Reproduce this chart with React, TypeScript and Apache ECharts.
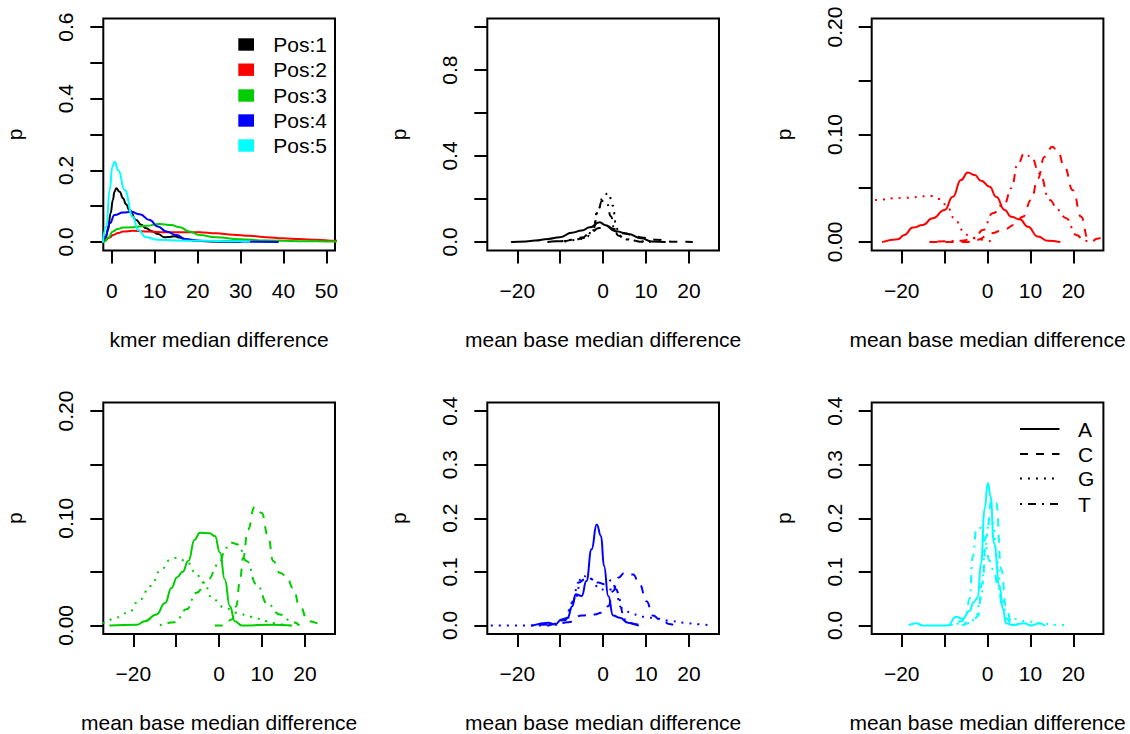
import React, { useEffect, useRef } from "react";
import * as echarts from "echarts";

// ---------- data ----------
type P = [number, number];

// Panel 1: kmer median difference, positions 1..5
const kmerPos1: P[] = [[-2.1,0],[-1.5,0.01],[-0.9,0.033],[-0.3,0.08],[0.23,0.117],[0.6,0.14],[1.0,0.15],[1.8,0.14],[2.6,0.122],[3.3,0.105],[4.1,0.089],[5.7,0.061],[6.8,0.048],[8.0,0.038],[9.3,0.03],[10.7,0.022],[12.3,0.013],[13.5,0.014],[14.6,0.016],[15.8,0.012],[17,0.0075],[19.7,0.003],[24,0.001],[30,0]];
const kmerPos2: P[] = [[-2.1,0],[-1.7,0.003],[-0.5,0.012],[0.23,0.019],[1.5,0.025],[2.6,0.029],[4.9,0.031],[8.8,0.029],[12.7,0.027],[16.6,0.027],[20.4,0.027],[24.3,0.024],[28.2,0.02],[32.1,0.017],[36,0.013],[39.9,0.01],[43.7,0.008],[47.6,0.006],[51.9,0.003],[55,0.002]];
const kmerPos3: P[] = [[-2.1,0],[-1.7,0.002],[-0.8,0.012],[0.23,0.029],[1.3,0.036],[2.6,0.04],[4.9,0.041],[8.0,0.045],[11.1,0.05],[13.8,0.047],[15.8,0.041],[18.1,0.029],[20.4,0.019],[24.3,0.013],[29.8,0.0075],[36,0.004],[43.7,0.002],[52,0.001],[55,0.001]];
const kmerPos4: P[] = [[-2.1,0],[-1.5,0.015],[-0.5,0.052],[0.63,0.075],[2.6,0.082],[4.5,0.084],[6.5,0.077],[8.8,0.061],[10.7,0.043],[12.7,0.029],[15,0.019],[17.3,0.0075],[20.5,0.003],[28,0.001],[38.7,0]];
const kmerPos5: P[] = [[-2.1,0],[-1.3,0.043],[-0.5,0.145],[0.1,0.21],[0.63,0.224],[1.5,0.2],[2.96,0.145],[4.9,0.07],[6.1,0.033],[8.0,0.013],[10.7,0.006],[15,0.004],[22,0.003],[28,0.002],[32,0.001]];

// Panel 2: position 1 (black), bases A C G T
const pos1A: P[] = [[-21.3,0],[-18,0.002],[-15.9,0.006],[-12.8,0.014],[-10.1,0.022],[-7.3,0.043],[-5.0,0.053],[-3.1,0.068],[-0.8,0.092],[0.4,0.079],[2.7,0.051],[5.8,0.037],[8.9,0.017],[11.3,0.002],[14.4,0]];
const pos1C: P[] = [[-12.8,0],[-9,0.004],[-7,0.01],[-5,0.02],[-3,0.04],[-1,0.065],[0.8,0.075],[2.5,0.06],[5,0.04],[7,0.03],[9,0.02],[12.5,0.01],[16,0.001],[20.9,0]];
const pos1G: P[] = [[-9,0],[-6,0.01],[-4,0.02],[-2.5,0.05],[-1.2,0.15],[0,0.21],[1.2,0.228],[2.3,0.168],[2.9,0.09],[3.6,0.04],[4.5,0.015],[6,0.01],[8.5,0.003],[11,0]];
const pos1T: P[] = [[-13,0],[-10,0.003],[-7,0.01],[-4,0.02],[-2.3,0.06],[-1.2,0.14],[-0.3,0.19],[0.8,0.185],[1.8,0.12],[2.6,0.06],[3.5,0.03],[5,0.015],[7,0.006],[9,0.001],[11,0]];

// Panel 3: position 2 (red)
const pos2A: P[] = [[-24.4,0],[-20.9,0.0025],[-19.4,0.0065],[-17.4,0.0133],[-15.1,0.0158],[-12.8,0.022],[-10,0.0297],[-8.1,0.042],[-6.2,0.0576],[-4.6,0.0647],[-3,0.0622],[-1.5,0.057],[0.5,0.0514],[2,0.042],[4,0.0297],[5.5,0.0235],[7.5,0.021],[9.4,0.0142],[11.7,0.005],[14.1,0.001],[16.8,0]];
const pos2C: P[] = [[-13.5,0],[-4.6,0],[-2.3,0.002],[0.8,0.008],[4,0.0118],[6.3,0.0158],[8.2,0.0235],[10.2,0.039],[11.7,0.059],[13.3,0.0793],[15.1,0.0885],[16.4,0.084],[17.9,0.07],[19.9,0.048],[21.8,0.0235],[23.4,0.0034],[24.5,0.001],[25.5,0.003],[27,0.005]];
const pos2G: P[] = [[-30,0.039],[-26.7,0.039],[-20,0.041],[-13.1,0.0427],[-11.2,0.04],[-9.6,0.0344],[-7.7,0.022],[-5.8,0.011],[-4.2,0.005],[-2.3,0.003],[-0.3,0.001],[1.7,0]];
const pos2T: P[] = [[-13.5,0],[-6.2,0.001],[-3,0.0034],[-1.1,0.011],[1.2,0.0267],[4,0.036],[5.5,0.05],[7.1,0.073],[8.6,0.0824],[10.2,0.0793],[12.1,0.0638],[14.5,0.039],[16.4,0.0297],[18.3,0.022],[20.7,0.0065],[22.6,0.001],[24,0]];

// Panel 4: position 3 (green)
const pos3A: P[] = [[-25.4,0],[-19.2,0.0006],[-17.3,0.004],[-14.6,0.0103],[-12.6,0.021],[-11.1,0.035],[-9.8,0.045],[-8.5,0.05],[-7.2,0.06],[-5.7,0.08],[-4.5,0.0865],[-2.2,0.0859],[-1,0.0834],[0.2,0.068],[1.3,0.043],[2.5,0.018],[3.65,0.004],[5.3,0],[12.6,0.0006],[16.8,0]];
const pos3C: P[] = [[-1,0],[1.3,0],[2.9,0.0056],[4,0.018],[4.8,0.04],[5.6,0.0632],[6.7,0.0896],[8.3,0.1108],[9.9,0.105],[11.4,0.0834],[12.6,0.06],[14.1,0.0492],[15.7,0.046],[17.2,0.035],[18.8,0.018],[20.7,0.004],[23.8,0]];
const pos3G: P[] = [[-29,0.001],[-26.6,0.0025],[-24.3,0.0072],[-21.2,0.0118],[-18.4,0.0243],[-16.1,0.0367],[-13.4,0.0523],[-11.5,0.061],[-9.9,0.0632],[-7.6,0.06],[-5.65,0.05],[-3.7,0.04],[-1.4,0.0243],[1.3,0.0165],[4,0.0118],[7.5,0.0081],[11,0.004],[14.1,0.001],[16.4,0]];
const pos3T: P[] = [[-13.8,0],[-10.3,0.003],[-7.6,0.015],[-5.3,0.0305],[-2.6,0.043],[-0.2,0.057],[1.7,0.0725],[2.9,0.0772],[4.4,0.0756],[6.4,0.06],[8.7,0.0383],[11.4,0.0196],[14.1,0.0103],[17.2,0.003],[18.7,0]];

// Panel 5: position 4 (blue)
const pos4A: P[] = [[-16.3,0],[-12.8,0.005],[-11.2,0.002],[-9.7,0.011],[-8.3,0.014],[-7.2,0.036],[-6.4,0.058],[-5,0.0548],[-3.9,0.0828],[-2.7,0.142],[-1.5,0.1885],[-0.5,0.167],[0.2,0.111],[1.2,0.0548],[2.3,0.0187],[3.9,0.0143],[5.8,0.005],[8.1,0]];
const pos4C: P[] = [[-12.8,0],[-8.1,0.006],[-5,0.0187],[-1.9,0.0205],[-0.5,0.0237],[1.2,0.036],[2.3,0.064],[3.5,0.089],[5,0.098],[7,0.095],[8.5,0.0765],[10.1,0.045],[11.6,0.0187],[13.2,0.011],[15.8,0.002],[16.5,0]];
const pos4G: P[] = [[-28,0],[-12,0],[-8.9,0.005],[-6.6,0.0485],[-4.9,0.093],[-2.7,0.086],[-0.8,0.067],[1.6,0.067],[3.1,0.064],[4.65,0.03],[7,0.0205],[9.7,0.016],[12.8,0.0125],[15.9,0.008],[19,0.005],[22.1,0.002],[25.2,0]];
const pos4T: P[] = [[-16.7,0],[-12.1,0.002],[-8.9,0.01],[-7.2,0.042],[-5.75,0.08],[-4.3,0.086],[-2.7,0.087],[-1.2,0.08],[0.4,0.077],[1.95,0.0845],[3.1,0.067],[3.9,0.036],[5,0.011],[7.3,0.002],[9.6,0]];

// Panel 6: position 5 (cyan)
const pos5A: P[] = [[-18.2,0.001],[-16.6,0.004],[-15.1,0],[-9.3,0],[-7.3,0.016],[-5.8,0.0125],[-4.2,0.027],[-3.2,0.0435],[-2.3,0.0517],[-1.5,0.117],[-0.7,0.2165],[0.07,0.266],[0.7,0.241],[1.5,0.154],[2.8,0.073],[3.6,0.03],[4.3,0.004],[5.8,0.001],[8.6,0.004],[10.1,0],[12.1,0.004],[13.3,0]];
const pos5C: P[] = [[-6,0],[-3.5,0.005],[-2.3,0.017],[-1.2,0.08],[-0.3,0.167],[1,0.235],[2,0.229],[3.2,0.1045],[4.3,0.036],[5.5,0.007],[7,0]];
const pos5G: P[] = [[-9,0],[-6,0.004],[-3,0.01],[-1.5,0.05],[-0.5,0.15],[0.5,0.2],[1.3,0.19],[2.2,0.12],[3.2,0.05],[4.5,0.02],[6,0.012],[9,0.008],[12,0.004],[16,0.001],[19,0]];
const pos5T: P[] = [[-8.5,0],[-6,0.008],[-5,0.02],[-4.2,0.05],[-3.4,0.13],[-2.6,0.18],[-1.5,0.182],[-0.5,0.15],[0.5,0.12],[1.5,0.1],[2.5,0.07],[3.5,0.035],[4.5,0.012],[5.5,0.004],[7,0]];

// Axis ticks and labels
const kmerXTicks = [0, 10, 20, 30, 40, 50];
const baseXTicks = [-20, -10, 0, 10, 20];
const baseXLabels = [-20, 0, 10, 20];
const yTicks06 = [0, 0.1, 0.2, 0.3, 0.4, 0.5, 0.6];
const yLabels06 = [0, 0.2, 0.4, 0.6];
const yTicks10 = [0, 0.2, 0.4, 0.6, 0.8, 1.0];
const yLabels10 = [0, 0.4, 0.8];
const yTicks02 = [0, 0.05, 0.1, 0.15, 0.2];
const yLabels02 = [0, 0.1, 0.2];
const yTicks04 = [0, 0.1, 0.2, 0.3, 0.4];

const posNames = ["Pos:1", "Pos:2", "Pos:3", "Pos:4", "Pos:5"];
const baseNames = ["A", "C", "G", "T"];
const posColors = ["#000000", "#FF0000", "#00CD00", "#0000FF", "#00FFFF"];
const baseDash: number[][] = [[], [8, 8], [2, 6], [2, 6, 8, 6]];

const FONT = '"Liberation Sans", Arial, Helvetica, sans-serif';
const FS = 21;

const colLeft = [103.3, 487.3, 871.7];
const colWidth = 231.7;
const rowTop = [18.5, 402.5];
const rowHeight = [232, 232.5];

const rng = (lo: number, hi: number) => [lo - 0.04 * (hi - lo), hi + 0.04 * (hi - lo)];

type Panel = {
  xlim: number[]; ylim: number[];
  xTicks: number[]; xLabels: number[];
  yTicks: number[]; yLabels: number[]; yDec: number;
  xName: string;
  lines: { name: string; data: P[]; color: string; dash: number[] }[];
};

const baseLines = (arrs: P[][], color: string) =>
  arrs.map((d, i) => ({ name: baseNames[i], data: d, color, dash: baseDash[i] }));

const panels: Panel[] = [
  {
    xlim: [0, 50], ylim: [0, 0.6], xTicks: kmerXTicks, xLabels: kmerXTicks,
    yTicks: yTicks06, yLabels: yLabels06, yDec: 1, xName: "kmer median difference",
    lines: [kmerPos1, kmerPos2, kmerPos3, kmerPos4, kmerPos5].map((d, i) => ({ name: posNames[i], data: d, color: posColors[i], dash: [] })),
  },
  { xlim: [-25, 25], ylim: [0, 1], xTicks: baseXTicks, xLabels: baseXLabels, yTicks: yTicks10, yLabels: yLabels10, yDec: 1, xName: "mean base median difference", lines: baseLines([pos1A, pos1C, pos1G, pos1T], posColors[0]) },
  { xlim: [-25, 25], ylim: [0, 0.2], xTicks: baseXTicks, xLabels: baseXLabels, yTicks: yTicks02, yLabels: yLabels02, yDec: 2, xName: "mean base median difference", lines: baseLines([pos2A, pos2C, pos2G, pos2T], posColors[1]) },
  { xlim: [-25, 25], ylim: [0, 0.2], xTicks: baseXTicks, xLabels: baseXLabels, yTicks: yTicks02, yLabels: yLabels02, yDec: 2, xName: "mean base median difference", lines: baseLines([pos3A, pos3C, pos3G, pos3T], posColors[2]) },
  { xlim: [-25, 25], ylim: [0, 0.4], xTicks: baseXTicks, xLabels: baseXLabels, yTicks: yTicks04, yLabels: yTicks04, yDec: 1, xName: "mean base median difference", lines: baseLines([pos4A, pos4C, pos4G, pos4T], posColors[3]) },
  { xlim: [-25, 25], ylim: [0, 0.4], xTicks: baseXTicks, xLabels: baseXLabels, yTicks: yTicks04, yLabels: yTicks04, yDec: 1, xName: "mean base median difference", lines: baseLines([pos5A, pos5C, pos5G, pos5T], posColors[4]) },
];

const fmtX = (v: number) => (v < 0 ? "\u2212" + Math.abs(v) : String(v));

function buildOption() {
  const grid: any[] = [];
  const xAxis: any[] = [];
  const yAxis: any[] = [];
  const series: any[] = [];
  const txt = { color: "#000", fontFamily: FONT, fontSize: FS };
  panels.forEach((p, i) => {
    const r = Math.floor(i / 3), c = i % 3;
    grid.push({
      left: colLeft[c], top: rowTop[r], width: colWidth, height: rowHeight[r],
      show: true, borderColor: "#000", borderWidth: 2, backgroundColor: "transparent",
      containLabel: false,
    });
    const xr = rng(p.xlim[0], p.xlim[1]);
    const yr = rng(p.ylim[0], p.ylim[1]);
    xAxis.push({
      type: "value", gridIndex: i, min: xr[0], max: xr[1],
      name: p.xName, nameLocation: "middle", nameGap: 78, nameTextStyle: txt,
      axisLine: { show: false, onZero: false },
      axisTick: { show: true, length: 13, inside: false, customValues: p.xTicks, lineStyle: { color: "#000", width: 2 } },
      axisLabel: { show: true, margin: 29, customValues: p.xLabels, formatter: fmtX, ...txt },
      splitLine: { show: false },
    });
    yAxis.push({
      type: "value", gridIndex: i, min: yr[0], max: yr[1],
      name: "p", nameLocation: "middle", nameGap: 78, nameRotate: 90, nameTextStyle: txt,
      axisLine: { show: false, onZero: false },
      axisTick: { show: true, length: 13, inside: false, customValues: p.yTicks, lineStyle: { color: "#000", width: 2 } },
      axisLabel: { show: true, margin: 27, rotate: 90, customValues: p.yLabels, formatter: (v: number) => v.toFixed(p.yDec), ...txt },
      splitLine: { show: false },
    });
    p.lines.forEach((l) => {
      series.push({
        type: "line", name: l.name, xAxisIndex: i, yAxisIndex: i, data: l.data,
        symbol: "none", showSymbol: false, smooth: 0.5, smoothMonotone: "x", clip: true, silent: true,
        lineStyle: { color: l.color, width: 2, type: l.dash.length ? l.dash : "solid", cap: l.dash.length ? "butt" : "round", join: "round" },
      });
    });
  });

  const graphic: any[] = [];
  // legend, panel 1
  const leg1Y = [44.5, 69.7, 95.5, 120.5, 145.5];
  posNames.forEach((n, k) => {
    graphic.push({ type: "rect", shape: { x: 238.3, y: leg1Y[k] - 6.2, width: 15.7, height: 12.4 }, style: { fill: posColors[k] }, silent: true });
    graphic.push({ type: "text", x: 273.3, y: leg1Y[k], style: { text: n, fill: "#000", font: `${FS}px ${FONT}`, align: "left", verticalAlign: "middle" }, silent: true });
  });
  // legend, panel 6
  const leg6Y = [429, 454, 478.5, 504];
  baseNames.forEach((n, k) => {
    graphic.push({ type: "line", shape: { x1: 1020, y1: leg6Y[k], x2: 1059.5, y2: leg6Y[k] }, style: { stroke: "#000", lineWidth: 2, lineDash: baseDash[k].length ? baseDash[k] : null, lineCap: "butt" }, silent: true });
    graphic.push({ type: "text", x: 1078, y: leg6Y[k], style: { text: n, fill: "#000", font: `${FS}px ${FONT}`, align: "left", verticalAlign: "middle" }, silent: true });
  });

  return { animation: false, backgroundColor: "#fff", grid, xAxis, yAxis, series, graphic };
}

export default function App() {
  const ref = useRef<HTMLDivElement>(null);
  useEffect(() => {
    if (!ref.current) return;
    const chart = echarts.init(ref.current, undefined, { renderer: "svg" });
    chart.setOption(buildOption() as any);
    return () => chart.dispose();
  }, []);
  return <div ref={ref} style={{ position: "fixed", left: 0, top: 0, width: 1130, height: 734, background: "#fff" }} />;
}
